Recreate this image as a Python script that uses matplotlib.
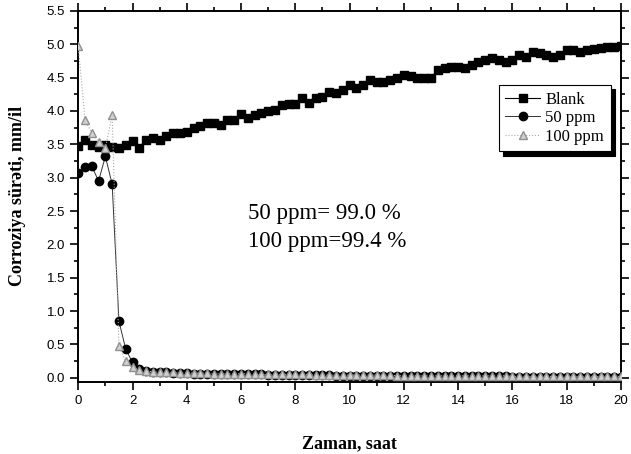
import matplotlib.pyplot as plt
from matplotlib.ticker import MultipleLocator, FormatStrFormatter
import numpy as np

# time in hours, one reading every 15 min
zaman = np.arange(81) * 0.25

blank = [3.47, 3.56, 3.49, 3.46, 3.49, 3.46, 3.44, 3.49, 3.55, 3.44,
         3.56, 3.59, 3.56, 3.62, 3.67, 3.67, 3.69, 3.74, 3.77, 3.82,
         3.82, 3.79, 3.86, 3.86, 3.95, 3.90, 3.94, 3.97, 4.00, 4.01,
         4.09, 4.10, 4.10, 4.19, 4.12, 4.19, 4.21, 4.28, 4.27, 4.31,
         4.39, 4.34, 4.39, 4.46, 4.43, 4.43, 4.46, 4.50, 4.54, 4.52,
         4.50, 4.50, 4.50, 4.61, 4.64, 4.66, 4.66, 4.64, 4.69, 4.73,
         4.76, 4.79, 4.76, 4.73, 4.76, 4.84, 4.81, 4.88, 4.87, 4.84,
         4.81, 4.84, 4.91, 4.91, 4.88, 4.91, 4.93, 4.95, 4.96, 4.96,
         4.97]

ppm50 = [3.07, 3.16, 3.17, 2.95, 3.32, 2.90, 0.85, 0.43, 0.23, 0.13,
         0.10, 0.09, 0.08, 0.08, 0.07, 0.07, 0.07, 0.06, 0.06, 0.06,
         0.06, 0.06, 0.05, 0.05, 0.05, 0.05, 0.05, 0.05, 0.04, 0.04,
         0.04, 0.04, 0.04, 0.04, 0.04, 0.04, 0.04, 0.04, 0.03, 0.03,
         0.03, 0.03, 0.03, 0.03, 0.03, 0.03, 0.03, 0.03, 0.03, 0.03,
         0.03, 0.02, 0.02, 0.02, 0.02, 0.02, 0.02, 0.02, 0.02, 0.02,
         0.02, 0.02, 0.02, 0.02, 0.01, 0.01, 0.01, 0.01, 0.01, 0.01,
         0.01, 0.01, 0.01, 0.01, 0.01, 0.01, 0.01, 0.01, 0.01, 0.01,
         0.01]

ppm100 = [4.97, 3.86, 3.67, 3.54, 3.44, 3.94, 0.47, 0.25, 0.16, 0.12,
          0.10, 0.09, 0.08, 0.08, 0.08, 0.07, 0.07, 0.07, 0.07, 0.07,
          0.06, 0.06, 0.06, 0.06, 0.06, 0.06, 0.05, 0.05, 0.05, 0.05,
          0.05, 0.05, 0.05, 0.05, 0.05, 0.04, 0.04, 0.04, 0.04, 0.04,
          0.04, 0.04, 0.04, 0.04, 0.04, 0.04, 0.04, 0.03, 0.03, 0.03,
          0.03, 0.03, 0.03, 0.03, 0.03, 0.03, 0.03, 0.03, 0.03, 0.03,
          0.03, 0.03, 0.03, 0.03, 0.02, 0.02, 0.02, 0.02, 0.02, 0.02,
          0.02, 0.02, 0.02, 0.02, 0.02, 0.02, 0.02, 0.02, 0.02, 0.02,
          0.02]

seriff = ['Liberation Serif', 'DejaVu Serif']
sansf = ['Liberation Sans', 'DejaVu Sans']

fig = plt.figure(figsize=(6.31, 4.54), dpi=100)
ax = fig.add_axes([0.124, 0.159, 0.860, 0.817])

ax.plot(zaman, blank, color='black', lw=0.8, marker='s', ms=5.5,
        mec='black', mfc='black', label='Blank', zorder=3)
ax.plot(zaman, ppm50, color='#333333', lw=0.7, marker='o', ms=6,
        mec='black', mfc='black', label='50 ppm', zorder=4)
ax.plot(zaman, ppm100, color='#aaaaaa', lw=0.8, ls=':', marker='^', ms=6,
        mec='#909090', mfc='#d0d0d0', label='100 ppm', zorder=5)

ax.set_xlim(0, 20)
ax.set_ylim(-0.06, 5.5)
ax.xaxis.set_major_locator(MultipleLocator(2))
ax.xaxis.set_minor_locator(MultipleLocator(1))
ax.yaxis.set_major_locator(MultipleLocator(0.5))
ax.yaxis.set_minor_locator(MultipleLocator(0.25))
ax.yaxis.set_major_formatter(FormatStrFormatter('%.1f'))

for s in ax.spines.values():
    s.set_linewidth(1.4)
ax.tick_params(which='both', direction='out', top=True, right=True,
               width=1.2, labelsize=9.5)
ax.tick_params(which='major', length=6)
ax.tick_params(which='minor', length=3)
for lab in ax.get_xticklabels() + ax.get_yticklabels():
    lab.set_family(sansf)

ax.set_xlabel('Zaman, saat', family=seriff, fontsize=13, fontweight='bold',
              labelpad=20)
ax.set_ylabel('Corroziya sürəti, mm/il', family=seriff, fontsize=13,
              fontweight='bold', labelpad=15)

ax.text(0.313, 0.454, '50 ppm= 99.0 %', transform=ax.transAxes,
        family=seriff, fontsize=16.5, va='center')
ax.text(0.313, 0.377, '100 ppm=99.4 %', transform=ax.transAxes,
        family=seriff, fontsize=16.5, va='center')

leg = ax.legend(loc='upper right', bbox_to_anchor=(0.981, 0.80),
                prop={'family': seriff, 'size': 12}, fancybox=False,
                edgecolor='black', framealpha=1, handlelength=2.1,
                borderpad=0.4, labelspacing=0.15, handletextpad=0.3,
                borderaxespad=0,
                shadow={'color': 'black', 'alpha': 1, 'ox': 3, 'oy': -3})
leg.get_frame().set_linewidth(0.8)

fig.savefig('out.png', dpi=100)
